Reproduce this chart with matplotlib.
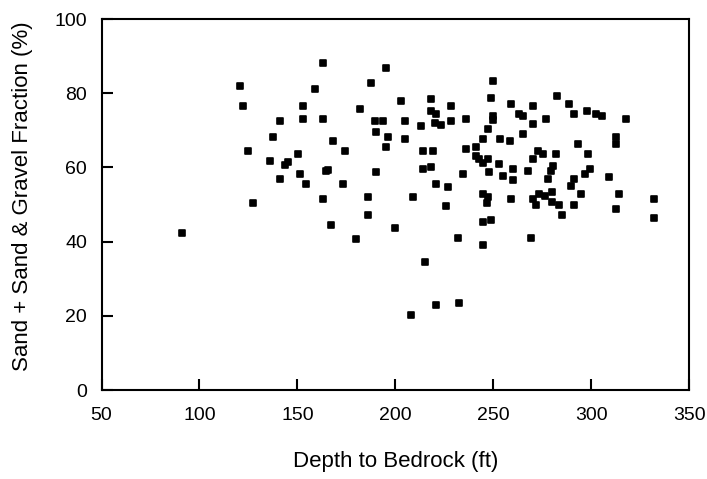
import matplotlib
matplotlib.use("Agg")
import matplotlib.pyplot as plt
from matplotlib.markers import MarkerStyle

plt.rcParams['font.family'] = ['Liberation Sans', 'DejaVu Sans']

# depth to bedrock (ft) and sand + sand & gravel fraction (%)
depth = [91.3, 120.8, 122.2, 124.7, 127.1, 136.2, 137.5, 141.3, 141.3, 143.8,
         145.2, 150.3, 151.5, 153.1, 153.1, 154.2, 159.2, 163.3, 163.3, 163.3,
         164.6, 165.4, 167.0, 168.3, 173.5, 174.5, 179.9, 182.0, 186.2, 186.2,
         187.4, 189.7, 189.9, 189.9, 193.8, 195.1, 195.3, 196.3, 199.9, 202.7,
         205.0, 205.0, 208.1, 209.2, 213.0, 214.3, 214.3, 215.4, 218.1, 218.1,
         218.1, 219.2, 220.7, 220.8, 221.0, 220.5, 223.5, 226.0, 227.0, 228.6,
         228.6, 232.2, 232.3, 234.8, 236.0, 236.0, 241.1, 241.1, 242.8, 244.8,
         244.9, 244.8, 244.8, 244.8, 246.9, 247.3, 247.5, 247.5, 247.6, 249.1,
         249.0, 250.1, 250.1, 250.1, 252.8, 253.7, 255.2, 258.8, 259.2, 259.0,
         260.1, 260.1, 263.1, 265.4, 265.4, 267.8, 269.2, 270.5, 270.5, 270.5,
         270.3, 271.9, 272.8, 273.2, 275.6, 276.4, 277.2, 278.2, 279.5, 280.7,
         279.8, 279.8, 282.0, 282.7, 283.6, 284.9, 288.8, 289.9, 291.1, 291.4,
         291.5, 293.3, 294.8, 297.0, 297.9, 298.5, 299.6, 302.7, 305.6, 309.3,
         312.9, 312.9, 312.9, 314.4, 318.0, 332.3, 332.3]
fraction = [42.4, 81.9, 76.5, 64.3, 50.5, 61.6, 68.3, 72.4, 56.8, 60.7,
            61.4, 63.6, 58.2, 76.5, 73.0, 55.5, 81.2, 88.1, 73.0, 51.4,
            58.9, 59.4, 44.6, 67.0, 55.5, 64.3, 40.6, 75.7, 52.0, 47.2,
            82.7, 72.5, 69.6, 58.8, 72.5, 86.8, 65.6, 68.3, 43.8, 77.9,
            72.5, 67.6, 20.2, 52.0, 71.1, 64.4, 59.5, 34.4, 78.4, 75.3,
            60.2, 64.4, 55.5, 22.9, 74.4, 72.0, 71.3, 49.6, 54.8, 76.5,
            72.5, 41.0, 23.4, 58.1, 73.0, 65.0, 65.4, 63.1, 62.2, 61.3,
            67.6, 52.8, 45.3, 39.2, 50.5, 52.1, 62.2, 70.3, 58.8, 45.8,
            78.6, 83.2, 73.9, 72.8, 60.9, 67.7, 57.6, 67.0, 77.2, 51.4,
            59.7, 56.5, 74.3, 73.8, 69.0, 58.9, 41.1, 76.5, 71.7, 62.2,
            51.4, 49.9, 64.4, 52.9, 63.6, 52.2, 73.0, 56.9, 58.9, 60.4,
            53.4, 50.7, 63.6, 79.2, 50.0, 47.3, 77.1, 55.0, 56.8, 49.8,
            74.3, 66.3, 52.8, 58.2, 75.3, 63.6, 59.5, 74.3, 73.8, 57.5,
            68.3, 66.3, 48.7, 52.8, 73.0, 51.4, 46.4]

xticks = [50, 100, 150, 200, 250, 300, 350]
yticks = [0, 20, 40, 60, 80, 100]

fig = plt.figure(figsize=(7.07, 4.79), dpi=100)
ax = fig.add_axes([0.1436, 0.1858, 0.831, 0.7745])

ax.plot(depth, fraction, ls='none', color='black',
        marker=MarkerStyle('s', joinstyle='round'), ms=5, mew=1.2)

ax.set_xlim(50, 350)
ax.set_ylim(0, 100)
ax.set_xticks(xticks)
ax.set_yticks(yticks)
ax.tick_params(direction='in', length=8, width=1.5, labelsize=14,
               top=False, right=False)
ax.tick_params(axis='x', pad=12)
ax.tick_params(axis='y', pad=10.5)
for s in ax.spines.values():
    s.set_linewidth(1.5)

ax.set_xlabel("Depth to Bedrock (ft)", fontsize=16)
ax.set_ylabel("Sand + Sand & Gravel Fraction (%)", fontsize=16)
ax.xaxis.set_label_coords(0.5, -0.164)
ax.yaxis.set_label_coords(-0.1166, 0.5216)

fig.savefig("out.png", dpi=100)
